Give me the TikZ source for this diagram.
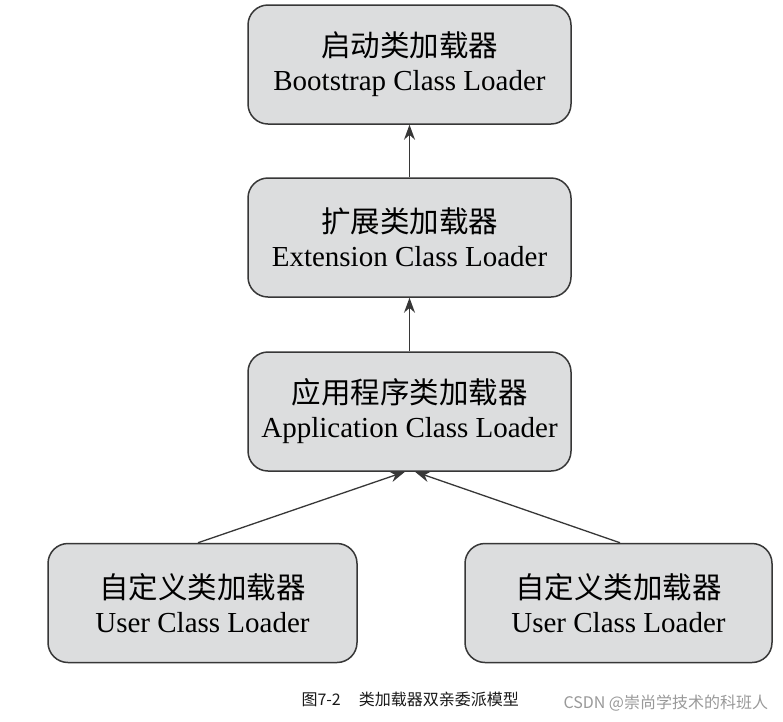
\documentclass[tikz,border=0pt]{standalone}
\usepackage{fontspec}
\setmainfont{Liberation Serif}
\newfontfamily\cjk{Noto Sans CJK SC}
\usetikzlibrary{arrows.meta}
\definecolor{boxfill}{RGB}{220,221,222}
\definecolor{boxline}{RGB}{55,55,55}
\newcommand{\cnline}[1]{{\cjk\fontsize{29.5}{34}\selectfont #1}}
\begin{document}
\begin{tikzpicture}[x=1pt,y=-1pt,
  loader/.style={draw=boxline, fill=boxfill, line width=1.5pt, rounded corners=20pt,
    minimum width=323pt, minimum height=119pt, align=center, inner sep=0pt,
    font=\fontsize{29}{34}\selectfont},
  arr/.style={draw=boxline, line width=1.3pt, -{Stealth[length=15pt,width=11pt]}},
  capt/.style={font=\cjk\fontsize{16}{16}\selectfont, anchor=west}]
\useasboundingbox[fill=white] (0,0) rectangle (783,721);

\node[loader] (boot) at (409.5,64.5) {\cnline{启动类加载器}\\Bootstrap Class Loader};
\node[loader] (ext) at (409.5,237.5) {\cnline{扩展类加载器}\\Extension Class Loader};
\node[loader] (app) at (409.5,411.5) {\cnline{应用程序类加载器}\\Application Class Loader};
\node[loader, minimum width=309pt] (user1) at (202.5,603) {\cnline{自定义类加载器}\\User Class Loader};
\node[loader, minimum width=307pt] (user2) at (618.5,603) {\cnline{自定义类加载器}\\User Class Loader};

\draw[arr] (ext.north) -- (boot.south);
\draw[arr] (app.north) -- (ext.south);
\draw[arr] ([xshift=-4.5pt]user1.north) -- ([xshift=-4.5pt]app.south);
\draw[arr] ([xshift=1.5pt]user2.north) -- ([xshift=5.5pt]app.south);

\node[capt, text=black!90] (cap) at (298,699) {图7-2\hspace{18pt}类加载器双亲委派模型};
\node[capt, text=black!40] (wm) at (560,703) {CSDN @崇尚学技术的科班人};
\end{tikzpicture}
\end{document}
